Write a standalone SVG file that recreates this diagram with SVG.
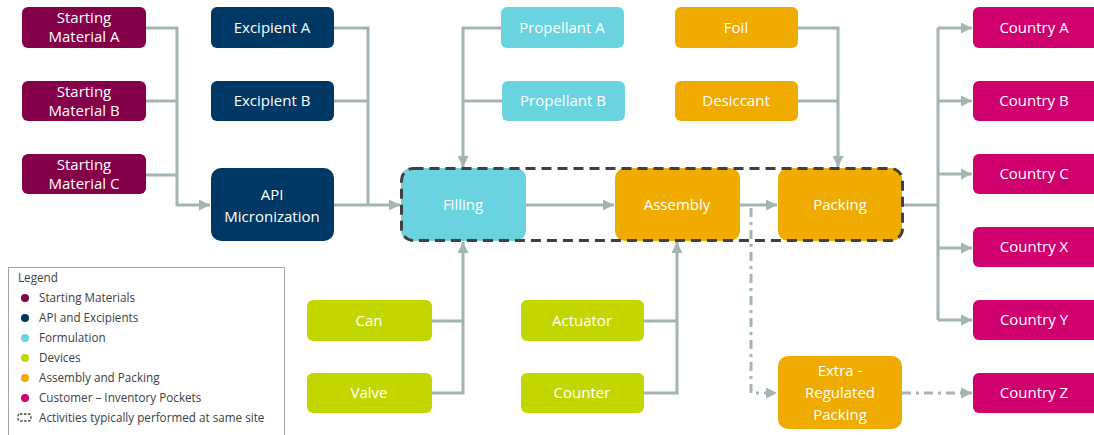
<svg xmlns="http://www.w3.org/2000/svg" width="1094" height="435" viewBox="0 0 1094 435">
  <style>
    .node text { font-family: "Open Sans", "Liberation Sans", sans-serif; font-size: 15px; fill: #ffffff; text-anchor: middle; }
    .sm { fill: #840048; }
    .api { fill: #003865; }
    .form { fill: #6AD3E0; }
    .dev { fill: #C4D600; }
    .pack { fill: #F0AB00; }
    .cust { fill: #D1006F; }
    .wire { fill: none; stroke: #A3B5B0; stroke-width: 3; }
    .dashdot { stroke-dasharray: 9 5 3 5; }
    .legend text { font-family: "Open Sans", "Liberation Sans", sans-serif; font-size: 11.7px; fill: #404040; }
  </style>
  <defs>
    <marker id="arrow" viewBox="0 0 10 10" refX="10" refY="5" markerWidth="11" markerHeight="11" markerUnits="userSpaceOnUse" orient="auto">
      <path d="M0,0 L10,5 L0,10 z" fill="#A3B5B0"/>
    </marker>
  </defs>
  <rect width="1094" height="435" fill="#ffffff"/>

  <!-- connectors -->
  <g id="connectors">
    <!-- starting materials to micronization -->
    <path class="wire" d="M146,28 H177 V205 H210" marker-end="url(#arrow)"/>
    <path class="wire" d="M146,101 H177"/>
    <path class="wire" d="M146,175 H177"/>
    <!-- excipients and API to filling -->
    <path class="wire" d="M334,28 H368 V205"/>
    <path class="wire" d="M334,101 H368"/>
    <path class="wire" d="M334,205 H400" marker-end="url(#arrow)"/>
    <!-- propellants to filling -->
    <path class="wire" d="M501,28 H463 V167" marker-end="url(#arrow)"/>
    <path class="wire" d="M502,101 H463"/>
    <!-- foil, desiccant to packing -->
    <path class="wire" d="M798,28 H838 V167" marker-end="url(#arrow)"/>
    <path class="wire" d="M798,101 H838"/>
    <!-- process chain -->
    <path class="wire" d="M526,205 H614" marker-end="url(#arrow)"/>
    <path class="wire" d="M740,205 H777" marker-end="url(#arrow)"/>
    <!-- devices -->
    <path class="wire" d="M432,393 H463 V242" marker-end="url(#arrow)"/>
    <path class="wire" d="M432,321 H463"/>
    <path class="wire" d="M644,393 H677 V242" marker-end="url(#arrow)"/>
    <path class="wire" d="M644,321 H677"/>
    <!-- distribution to countries -->
    <path class="wire" d="M902,205 H938"/>
    <path class="wire" d="M938,28 V320"/>
    <path class="wire" d="M938,28 H972" marker-end="url(#arrow)"/>
    <path class="wire" d="M938,101 H972" marker-end="url(#arrow)"/>
    <path class="wire" d="M938,174 H972" marker-end="url(#arrow)"/>
    <path class="wire" d="M938,248 H972" marker-end="url(#arrow)"/>
    <path class="wire" d="M938,320 H972" marker-end="url(#arrow)"/>
    <!-- regulated packing route -->
    <path class="wire dashdot" d="M751,208 V393 H777" marker-end="url(#arrow)"/>
    <path class="wire dashdot" d="M902,393 H972" marker-end="url(#arrow)"/>
  </g>

  <!-- starting materials -->
  <g id="sm-a" class="node"><rect class="sm" x="22" y="7" width="124" height="41" rx="6"/><text x="84" y="23">Starting</text><text x="84" y="42">Material A</text></g>
  <g id="sm-b" class="node"><rect class="sm" x="22" y="81" width="124" height="40" rx="6"/><text x="84" y="97">Starting</text><text x="84" y="116">Material B</text></g>
  <g id="sm-c" class="node"><rect class="sm" x="22" y="154" width="124" height="40" rx="6"/><text x="84" y="170">Starting</text><text x="84" y="189">Material C</text></g>

  <!-- API and excipients -->
  <g id="exc-a" class="node"><rect class="api" x="211" y="7" width="123" height="41" rx="6"/><text x="272" y="33">Excipient A</text></g>
  <g id="exc-b" class="node"><rect class="api" x="211" y="81" width="123" height="40" rx="6"/><text x="272" y="106">Excipient B</text></g>
  <g id="api" class="node"><rect class="api" x="211" y="168" width="123" height="73" rx="10"/><text x="272" y="200">API</text><text x="272" y="222">Micronization</text></g>

  <!-- formulation -->
  <g id="prop-a" class="node"><rect class="form" x="501" y="7" width="123" height="41" rx="6"/><text x="562" y="33">Propellant A</text></g>
  <g id="prop-b" class="node"><rect class="form" x="502" y="81" width="123" height="40" rx="6"/><text x="563" y="106">Propellant B</text></g>
  <g id="filling" class="node"><rect class="form" x="401" y="168" width="125" height="73" rx="10"/><text x="463" y="210">Filling</text></g>

  <!-- assembly and packing -->
  <g id="foil" class="node"><rect class="pack" x="675" y="7" width="123" height="41" rx="6"/><text x="736" y="33">Foil</text></g>
  <g id="desiccant" class="node"><rect class="pack" x="675" y="81" width="123" height="40" rx="6"/><text x="736" y="106">Desiccant</text></g>
  <g id="assembly" class="node"><rect class="pack" x="615" y="168" width="125" height="73" rx="10"/><text x="677" y="210">Assembly</text></g>
  <g id="packing" class="node"><rect class="pack" x="778" y="168" width="124" height="73" rx="10"/><text x="840" y="210">Packing</text></g>
  <g id="extra" class="node"><rect class="pack" x="778" y="356" width="124" height="73" rx="10"/><text x="840" y="376">Extra -</text><text x="840" y="398">Regulated</text><text x="840" y="420">Packing</text></g>

  <!-- devices -->
  <g id="can" class="node"><rect class="dev" x="307" y="300" width="125" height="41" rx="6"/><text x="369" y="326">Can</text></g>
  <g id="valve" class="node"><rect class="dev" x="307" y="373" width="125" height="40" rx="6"/><text x="369" y="398">Valve</text></g>
  <g id="actuator" class="node"><rect class="dev" x="521" y="300" width="123" height="41" rx="6"/><text x="582" y="326">Actuator</text></g>
  <g id="counter" class="node"><rect class="dev" x="521" y="373" width="123" height="40" rx="6"/><text x="582" y="398">Counter</text></g>

  <!-- customers -->
  <g id="country-a" class="node"><rect class="cust" x="973" y="7" width="126" height="41" rx="6"/><text x="1034" y="33">Country A</text></g>
  <g id="country-b" class="node"><rect class="cust" x="973" y="81" width="126" height="40" rx="6"/><text x="1034" y="106">Country B</text></g>
  <g id="country-c" class="node"><rect class="cust" x="973" y="154" width="126" height="40" rx="6"/><text x="1034" y="179">Country C</text></g>
  <g id="country-x" class="node"><rect class="cust" x="973" y="227" width="126" height="40" rx="6"/><text x="1034" y="252">Country X</text></g>
  <g id="country-y" class="node"><rect class="cust" x="973" y="300" width="126" height="40" rx="6"/><text x="1034" y="325">Country Y</text></g>
  <g id="country-z" class="node"><rect class="cust" x="973" y="373" width="126" height="40" rx="6"/><text x="1034" y="398">Country Z</text></g>

  <!-- same-site boundary -->
  <g id="same-site">
    <rect x="401.5" y="168.5" width="501" height="72" rx="12" fill="none" stroke="#404040" stroke-width="3" stroke-dasharray="10 6"/>
  </g>

  <!-- legend -->
  <g id="legend" class="legend">
    <rect x="8.5" y="267.5" width="276" height="172" fill="#ffffff" stroke="#A6A6A6" stroke-width="1"/>
    <text x="18" y="282" font-size="12.5">Legend</text>
    <circle cx="25" cy="298" r="4" class="sm"/><text x="39" y="302">Starting Materials</text>
    <circle cx="25" cy="318" r="4" class="api"/><text x="39" y="322">API and Excipients</text>
    <circle cx="25" cy="338" r="4" class="form"/><text x="39" y="342">Formulation</text>
    <circle cx="25" cy="358" r="4" class="dev"/><text x="39" y="362">Devices</text>
    <circle cx="25" cy="378" r="4" class="pack"/><text x="39" y="382">Assembly and Packing</text>
    <circle cx="25" cy="398" r="4" class="cust"/><text x="39" y="402">Customer – Inventory Pockets</text>
    <rect x="18" y="414" width="13" height="7" rx="2" fill="none" stroke="#404040" stroke-width="1.3" stroke-dasharray="2.5 1.5"/>
    <text x="39" y="422">Activities typically performed at same site</text>
  </g>
</svg>
